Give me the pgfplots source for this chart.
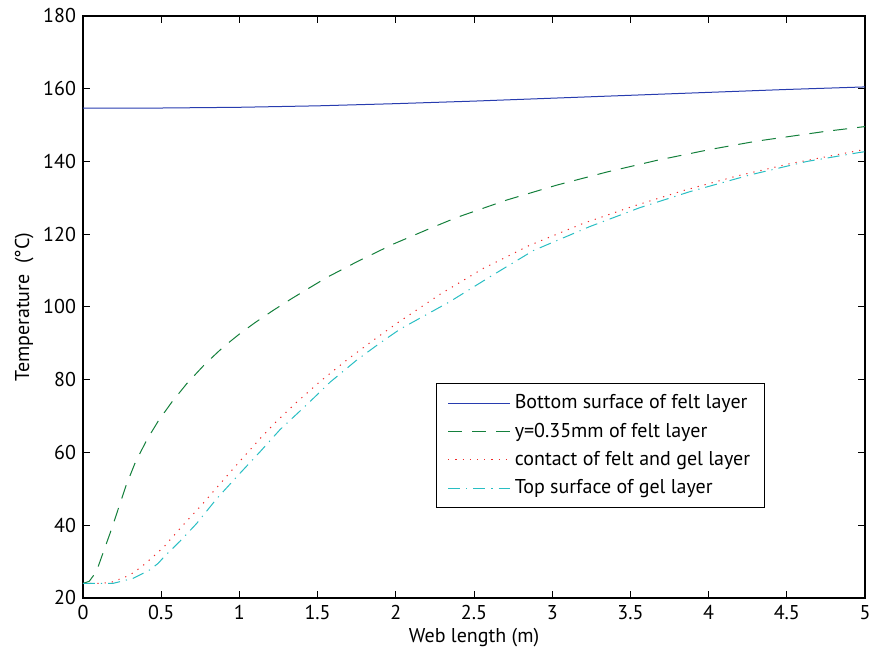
\documentclass[border=0pt]{standalone}
\usepackage{fontspec}
\setmainfont{PT Sans}
\usepackage{pgfplots}
\pgfplotsset{compat=1.18}
\definecolor{mblue}{RGB}{40,60,175}
\definecolor{mgreen}{RGB}{20,128,60}
\definecolor{mred}{RGB}{240,40,40}
\definecolor{mcyan}{RGB}{40,190,195}
\begin{document}
\begin{tikzpicture}
\begin{axis}[
  name=ax,
  scale only axis,
  width=391pt, height=291pt,
  xmin=0, xmax=5, ymin=20, ymax=180,
  xtick={0,0.5,...,5},
  ytick={20,40,...,180},
  xticklabels={0,0.5,1,1.5,2,2.5,3,3.5,4,4.5,5},
  tick align=inside,
  major tick length=3.5pt,
  tick style={black, line width=0.5pt},
  axis line style={black, line width=0.6pt},
  /pgf/number format/assume math mode=true,
  tick label style={font=\fontsize{10}{12}\selectfont},
  label style={font=\fontsize{10}{12}\selectfont},
  xlabel={Web length (m)},
  ylabel={Temperature\ \ (°C)},
  xlabel style={yshift=2.5pt},
  ylabel style={yshift=-2pt},
  legend style={at={(0.451,0.369)}, anchor=north west, draw=black, line width=0.6pt,
    font=\fontsize{10}{12}\selectfont, inner xsep=0pt, inner ysep=3.3pt, row sep=1.6pt,
    /tikz/every even column/.append style={column sep=0pt}},
  legend cell align=left,
  legend image code/.code={\path[draw=none,fill=none] (0pt,0pt) -- (37pt,0pt); \draw[#1, line width=0.5pt] (6pt,0pt) -- (37pt,0pt);},
]
\addplot[mblue, line width=0.5pt] coordinates {
(0,154.7) (0.5,154.7) (1,154.9) (1.5,155.3) (2,155.9) (2.5,156.6) (3,157.4) (3.5,158.2) (4,159.0) (4.5,159.8) (5,160.5)
};
\addlegendentry{Bottom surface of felt layer\hspace*{6.5pt}}
\addplot[mgreen, line width=0.5pt, dash pattern=on 7pt off 5pt] coordinates {
(0,24) (0.04,24.6) (0.085,27.2) (0.139,33.7) (0.188,39.6) (0.230,45.1) (0.277,51.1) (0.332,57.0) (0.407,63.4) (0.482,68.7) (0.567,73.8) (0.663,78.9) (0.78,84.3) (0.897,89.0) (1.004,92.7) (1.1,95.7) (1.217,99.1) (1.334,102.3) (1.43,104.8) (1.558,108.1) (1.75,112.4) (1.984,117.3) (2.219,121.6) (2.389,124.6) (2.709,129.4) (3.029,133.5) (3.349,137.1) (3.668,140.3) (4.009,143.3) (4.308,145.6) (4.734,148.2) (5,149.6)
};
\addlegendentry{y=0.35mm of felt layer}
\addplot[mred, line width=0.5pt, dash pattern=on 0.6pt off 3pt] coordinates {
(0,24) (0.1,24) (0.18,24.3) (0.266,25.7) (0.309,26.6) (0.352,27.9) (0.394,29.3) (0.437,30.9) (0.48,32.6) (0.522,34.3) (0.565,36.4) (0.641,40.1) (0.759,45.6) (0.897,52.4) (1.015,58.2) (1.132,63.8) (1.238,68.6) (1.366,73.8) (1.515,79.5) (1.686,85.4) (1.835,90.2) (2.006,95.5) (2.283,103.5) (2.559,110.6) (2.858,117.0) (3.199,123.0) (3.517,127.7) (3.838,132.0) (4.180,136.0) (4.520,139.4) (4.947,142.9) (5,143.3)
};
\addlegendentry{contact of felt and gel layer}
\addplot[mcyan, line width=0.5pt, dash pattern=on 6pt off 3pt on 0.6pt off 3pt] coordinates {
(0,24) (0.19,24) (0.266,24.8) (0.32,25.4) (0.426,27.7) (0.48,29.5) (0.52,31.4) (0.620,35.6) (0.727,40.5) (0.855,47.3) (1.004,54.3) (1.132,60.2) (1.260,66.3) (1.430,73.1) (1.579,79.3) (1.750,85.4) (1.899,90.1) (2.027,93.9) (2.347,101.5) (2.602,108.3) (2.879,115.5) (3.24,122.1) (3.56,127.3) (3.88,131.7) (4.264,136.3) (4.627,140.0) (4.968,142.5) (5,142.7)
};
\addlegendentry{Top surface of gel layer}
\end{axis}
\pgfresetboundingbox
\path ([shift={(-41.5pt,-29pt)}]ax.south west) rectangle ([shift={(3pt,8pt)}]ax.north east);
\end{tikzpicture}
\end{document}
